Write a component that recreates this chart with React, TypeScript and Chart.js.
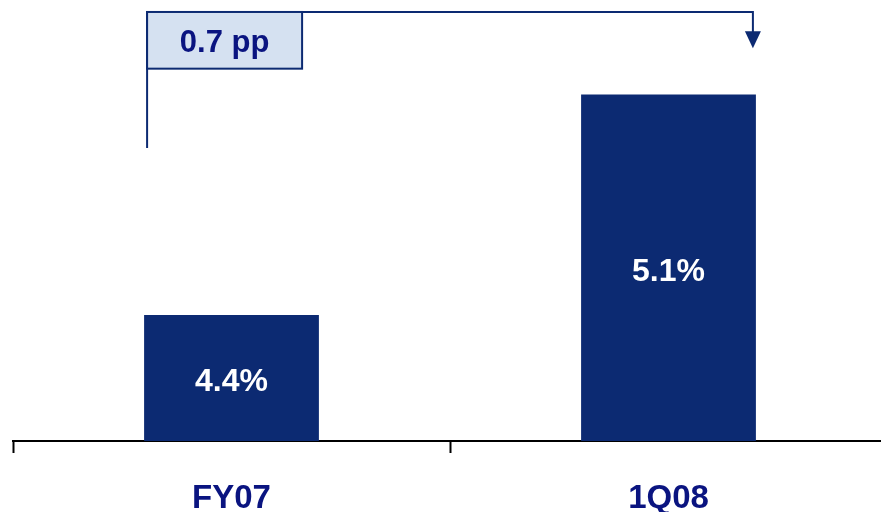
import React, { useEffect, useRef } from "react";
import { Chart, registerables } from "chart.js";

Chart.register(...registerables);

const categories = ["FY07", "1Q08"];
const values = [4.4, 5.1];
const valueLabels = ["4.4%", "5.1%"];
const deltaLabel = "0.7 pp";

const NAVY = "#0c2a72";
const TEXT_NAVY = "#0a1480";
const BOX_FILL = "#d5e1f1";
const FONT = "'Liberation Sans', Arial, sans-serif";

const annotationPlugin = {
  id: "annot",
  afterDraw(chart: any) {
    const ctx = chart.ctx;
    const meta = chart.getDatasetMeta(0);
    const y = chart.scales.y;
    const x = chart.scales.x;
    const base = y.getPixelForValue(y.min);
    // value labels
    ctx.save();
    ctx.fillStyle = "#ffffff";
    ctx.font = "bold 32px " + FONT;
    ctx.textAlign = "center";
    ctx.textBaseline = "middle";
    values.forEach((v, i) => {
      const top = y.getPixelForValue(v);
      const cx = x.getPixelForValue(i);
      ctx.fillText(valueLabels[i], cx, (top + base) / 2 + 4);
    });
    ctx.restore();

    // bracket
    const b0 = meta.data[0];
    const b1 = meta.data[1];
    const xl = b0.x - b0.width / 2 + 3;
    const xr = b1.x + b1.width / 2 - 3;
    const yTop = y.getPixelForValue(5.362);
    const yLeftBottom = y.getPixelForValue(4.93);
    const yArrowTip = y.getPixelForValue(5.247);
    const yBoxBottom = y.getPixelForValue(5.182);
    const boxRight = xl + 155;

    ctx.save();
    ctx.strokeStyle = NAVY;
    ctx.lineWidth = 2;
    ctx.beginPath();
    ctx.moveTo(xl, yLeftBottom);
    ctx.lineTo(xl, yTop);
    ctx.lineTo(xr, yTop);
    ctx.lineTo(xr, yArrowTip - 16);
    ctx.stroke();
    ctx.fillStyle = NAVY;
    ctx.beginPath();
    ctx.moveTo(xr - 8, yArrowTip - 17);
    ctx.lineTo(xr + 8, yArrowTip - 17);
    ctx.lineTo(xr, yArrowTip);
    ctx.closePath();
    ctx.fill();

    // box
    ctx.fillStyle = BOX_FILL;
    ctx.fillRect(xl, yTop, boxRight - xl, yBoxBottom - yTop);
    ctx.strokeStyle = NAVY;
    ctx.lineWidth = 2;
    ctx.strokeRect(xl, yTop, boxRight - xl, yBoxBottom - yTop);
    ctx.fillStyle = TEXT_NAVY;
    ctx.font = "bold 31px " + FONT;
    ctx.textAlign = "center";
    ctx.textBaseline = "middle";
    ctx.fillText(deltaLabel, (xl + boxRight) / 2, (yTop + yBoxBottom) / 2 + 3);
    ctx.restore();
  },
};

export default function App() {
  const ref = useRef<HTMLCanvasElement>(null);
  useEffect(() => {
    if (!ref.current) return;
    const chart = new Chart(ref.current, {
      type: "bar",
      data: {
        labels: categories,
        datasets: [
          {
            data: values,
            backgroundColor: NAVY,
            barPercentage: 0.4,
            categoryPercentage: 1,
          },
        ],
      },
      options: {
        animation: false,
        responsive: false,
        maintainAspectRatio: false,
        layout: { padding: { left: 13, right: 3, top: 0, bottom: 0 } },
        plugins: { legend: { display: false }, tooltip: { enabled: false } },
        scales: {
          x: {
            afterFit(scale: any) {
              scale.height = 71;
            },
            grid: {
              display: true,
              drawOnChartArea: false,
              drawTicks: true,
              tickLength: 12,
              tickWidth: 2,
              tickColor: "#000000",
              offset: true,
            },
            border: { display: true, color: "#000000", width: 2 },
            ticks: {
              color: TEXT_NAVY,
              font: { family: FONT, size: 33, weight: "bold" },
              padding: 26,
            },
          },
          y: {
            display: false,
            min: 4,
            max: 5.4,
          },
        },
      },
      plugins: [annotationPlugin],
    });
    return () => chart.destroy();
  }, []);
  return (
    <div style={{ position: "fixed", left: 0, top: 0, width: 881, height: 512, overflow: "hidden", background: "#fff" }}>
      <canvas ref={ref} width={890} height={512} style={{ width: 890, height: 512, display: "block" }} />
    </div>
  );
}
